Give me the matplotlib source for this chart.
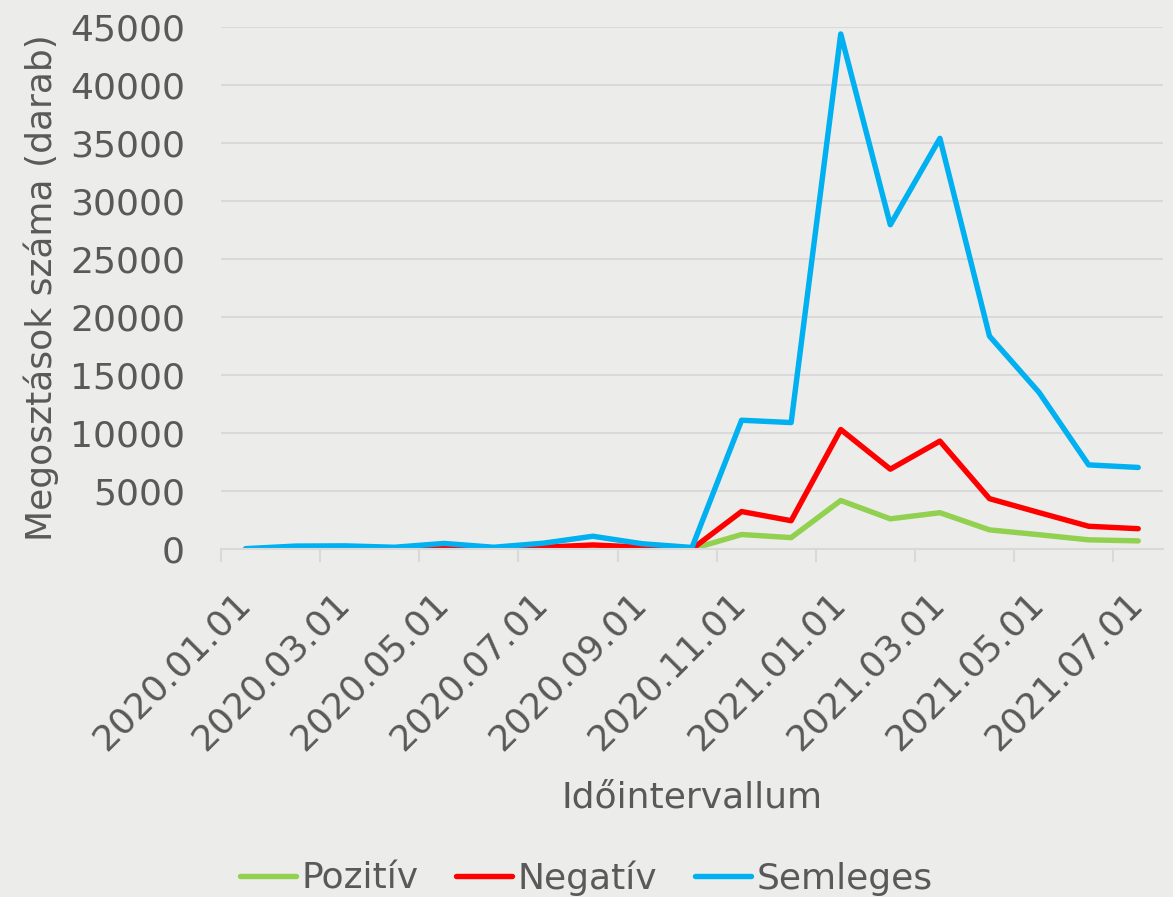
import numpy as np
import matplotlib
matplotlib.use("Agg")
import matplotlib.pyplot as plt
from matplotlib.transforms import ScaledTranslation

# Havi adatok: 2020 január - 2021 július
months = ["2020.01", "2020.02", "2020.03", "2020.04", "2020.05", "2020.06",
          "2020.07", "2020.08", "2020.09", "2020.10", "2020.11", "2020.12",
          "2021.01", "2021.02", "2021.03", "2021.04", "2021.05", "2021.06",
          "2021.07"]
pozitiv = [0, 0, 0, 0, 0, 0, 0, 80, 0, 0,
           1250, 980, 4180, 2600, 3130, 1650, 1230, 790, 700]
negativ = [0, 50, 50, 0, 120, 20, 150, 350, 150, 0,
           3230, 2440, 10300, 6880, 9300, 4340, 3140, 1960, 1750]
semleges = [30, 250, 270, 150, 480, 150, 500, 1100, 450, 130,
            11100, 10900, 44400, 27950, 35400, 18350, 13500, 7250, 7030]

tick_labels = ["2020.01.01", "2020.03.01", "2020.05.01", "2020.07.01",
               "2020.09.01", "2020.11.01", "2021.01.01", "2021.03.01",
               "2021.05.01", "2021.07.01"]

TEXT = "#595959"
BG = "#ececeb"
GRID = "#d9d9d9"

fig = plt.figure(figsize=(11.73, 8.97), dpi=100, facecolor=BG)
ax = fig.add_axes([221 / 1173, 1 - 549 / 897, 942 / 1173, 522 / 897])
ax.set_facecolor(BG)

# pontok a hónap közepén, tengelyosztás a hónap elején
x = np.arange(len(months)) + 0.5
style = dict(lw=3.9, solid_capstyle="round", solid_joinstyle="round")
ax.plot(x, pozitiv, color="#92d050", label="Pozitív", **style)
ax.plot(x, negativ, color="#ff0000", label="Negatív", **style)
ax.plot(x, semleges, color="#00b0f0", label="Semleges", **style)

ax.set_xlim(0, len(months))
ax.set_ylim(0, 45000)
ax.set_yticks(np.arange(0, 45001, 5000))
tick_pos = np.arange(0, len(months), 2)
ax.set_xticks(tick_pos)
ax.set_xticklabels([])

# ferde dátumcímkék kézzel, eltolva mint az Excelben
offset = ScaledTranslation(0.24, -0.49, fig.dpi_scale_trans)
for pos, lab in zip(tick_pos, tick_labels):
    ax.text(pos, 0, lab, transform=ax.get_xaxis_transform() + offset,
            rotation=45, ha="right", va="center", rotation_mode="anchor",
            fontsize=26, color=TEXT)

ax.grid(True, axis="y", color=GRID, lw=1.5)
ax.set_axisbelow(True)
for s in ["top", "right", "left"]:
    ax.spines[s].set_visible(False)
ax.spines["bottom"].set_color(GRID)
ax.spines["bottom"].set_linewidth(1.5)

ax.tick_params(axis="y", length=0, pad=26, labelsize=26, labelcolor=TEXT)
ax.tick_params(axis="x", length=9.5, width=1.5, color=GRID)

ax.set_ylabel("Megosztások száma (darab)", fontsize=26, color=TEXT)
ax.yaxis.set_label_coords(-0.172, 0.5)
ax.set_xlabel("Időintervallum", fontsize=26, color=TEXT)
ax.xaxis.set_label_coords(0.5, -0.443)

fig.legend(loc="lower center", bbox_to_anchor=(0.5, -0.035), ncol=3,
           frameon=False, fontsize=26, labelcolor=TEXT, handlelength=1.55,
           handletextpad=0.15, columnspacing=1.05)

fig.savefig("out.png", dpi=100, facecolor=BG)
